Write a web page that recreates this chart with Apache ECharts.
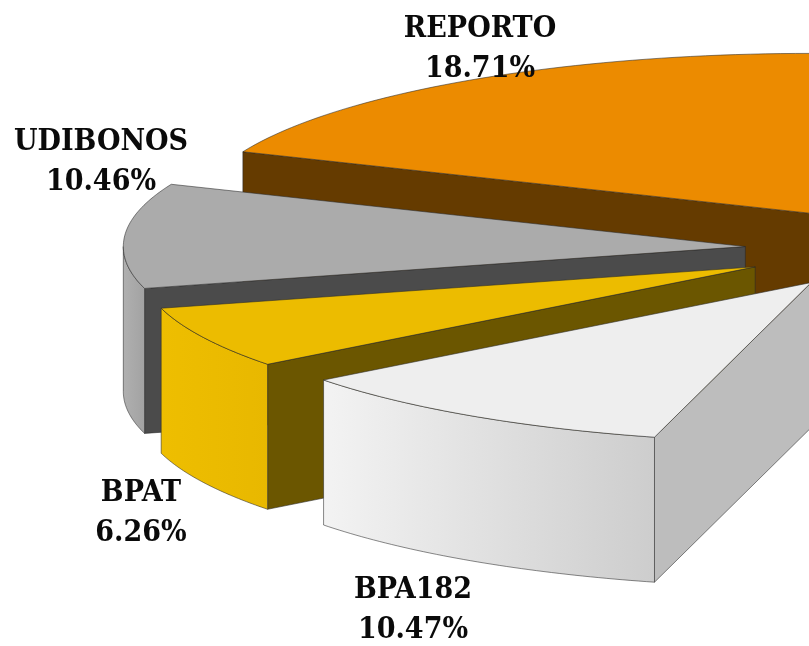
<!DOCTYPE html>
<html>
<head>
<meta charset="utf-8">
<style>html,body{margin:0;padding:0;background:#fff}#c{width:809px;height:646px}</style>
<script src="https://cdn.jsdelivr.net/npm/echarts@6/dist/echarts.min.js"></script>
</head>
<body>
<div id="c"></div>
<script>
// Data (the rest of the pie lies outside the visible crop)
const categories = ['REPORTO', 'UDIBONOS', 'BPAT', 'BPA182'];
const shares = [18.71, 10.46, 6.26, 10.47];
const hiddenShare = 54.10;

// Style / projection settings
const center = [887, 249];
const radii = [615, 622, 615, 615];
const tilt = 0.26;
const depth = 145;
const explodeX = [138, 142, 147, 137];
const explodeY = [165, 142, 155, 155];
const topColors = ['#EC8B00', '#ABABAB', '#ECBC00', '#EEEEEE'];
const cutColors = ['#653B00', '#4B4B4B', '#6B5600', '#BDBDBD'];
const sideColors = [['#EC8B00', '#EC8B00'], ['#B0B0B0', '#A2A2A2'], ['#EEBE00', '#E8B800'], ['#F3F3F3', '#CDCDCD']];
const labelAnchors = [[480, 49], [101, 162], [141, 513], [413, 610]];

const total = hiddenShare + shares.reduce((a, b) => a + b, 0);
// Slices run clockwise and end at twelve o'clock, so each start is counted back from the full circle.
function startAngle(i) {
  let s = 0;
  for (let j = 0; j <= i; j++) s += shares[j];
  return (total - s) / total * Math.PI * 2;
}
function pt(a, th, r, dz) {
  return [a[0] + r * Math.sin(th), a[1] - r * tilt * Math.cos(th) + (dz || 0)];
}
function arc(a, t0, t1, r, dz) {
  const out = [], n = 48;
  for (let k = 0; k <= n; k++) out.push(pt(a, t0 + (t1 - t0) * k / n, r, dz));
  return out;
}

function renderSlice(params, api) {
  const i = params.dataIndex;
  const r = radii[i];
  const t0 = startAngle(i);
  const t1 = t0 + api.value(0) / total * Math.PI * 2;
  const mid = (t0 + t1) / 2;
  const apex = [pt(center, mid, explodeX[i], 0)[0], pt(center, mid, explodeY[i], 0)[1]];
  const edge = { stroke: 'rgba(40,40,40,0.55)', lineWidth: 1 };
  const children = [];
  const e0 = pt(apex, t0, r, 0);
  // cut face at the start edge
  children.push({
    type: 'polygon',
    shape: { points: [apex, e0, [e0[0], e0[1] + depth], [apex[0], apex[1] + depth]] },
    style: Object.assign({ fill: cutColors[i] }, edge)
  });
  // outer rim, front part only
  const rimEnd = Math.min(t1, Math.PI * 1.5);
  if (rimEnd > t0) {
    const top = arc(apex, t0, rimEnd, r, 0);
    const bot = arc(apex, t0, rimEnd, r, depth).reverse();
    children.push({
      type: 'polygon',
      shape: { points: top.concat(bot) },
      style: Object.assign({
        fill: new echarts.graphic.LinearGradient(0, 0, 1, 0, [
          { offset: 0, color: sideColors[i][0] },
          { offset: 1, color: sideColors[i][1] }
        ])
      }, edge)
    });
  }
  // top face
  children.push({
    type: 'polygon',
    shape: { points: [apex].concat(arc(apex, t0, t1, r, 0)) },
    style: Object.assign({ fill: topColors[i] }, edge)
  });
  return { type: 'group', children };
}

function renderLabel(params, api) {
  const i = params.dataIndex;
  return {
    type: 'text',
    x: labelAnchors[i][0],
    y: labelAnchors[i][1],
    style: {
      text: categories[i] + '\n' + api.value(0).toFixed(2) + '%',
      fill: '#0A0A0A',
      font: 'bold 30px "DejaVu Serif Condensed"',
      lineHeight: 40,
      align: 'center',
      verticalAlign: 'middle'
    }
  };
}

const chart = echarts.init(document.getElementById('c'), null, { renderer: 'canvas' });
chart.setOption({
  animation: false,
  backgroundColor: '#ffffff',
  series: [
    { type: 'custom', coordinateSystem: 'none', renderItem: renderSlice, data: shares, z: 2, clip: false, silent: true },
    { type: 'custom', coordinateSystem: 'none', renderItem: renderLabel, data: shares, z: 5, clip: false, silent: true }
  ]
});
</script>
</body>
</html>
